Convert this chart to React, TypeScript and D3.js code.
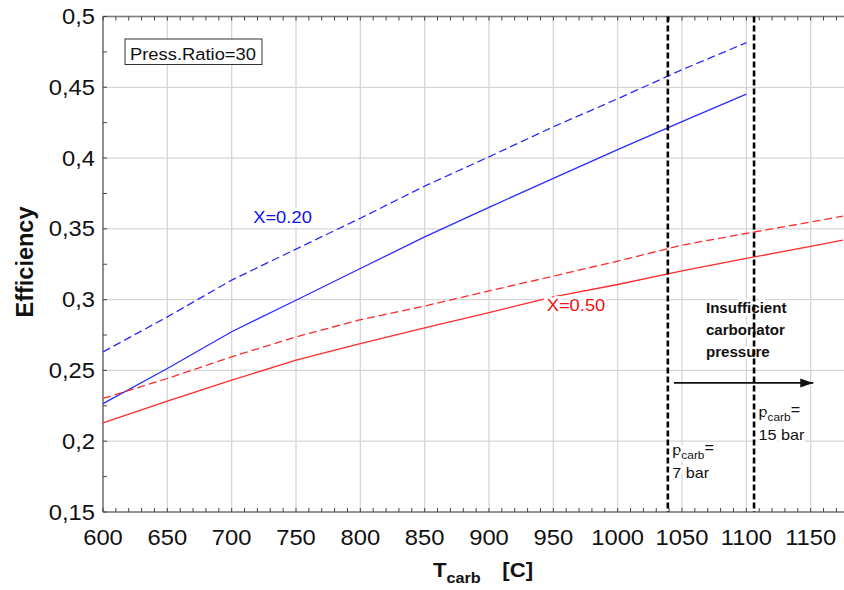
import React from "react";
import * as d3 from "d3";

// Carbonator temperature grid for each sorbent conversion case
const tempX020 = [600, 650, 700, 750, 800, 850, 900, 950, 1000, 1050, 1100];
const effX020Dashed = [0.2631, 0.2878, 0.3138, 0.3357, 0.3575, 0.3802, 0.4009, 0.4221, 0.4419, 0.4624, 0.4815];
const effX020Solid = [0.2266, 0.2514, 0.2773, 0.2996, 0.322, 0.3443, 0.3652, 0.3857, 0.406, 0.4257, 0.4452];

const tempX050 = [600, 650, 700, 750, 800, 850, 900, 950, 1000, 1050, 1100, 1150, 1175];
const effX050Dashed = [0.2302, 0.2443, 0.2596, 0.2737, 0.2858, 0.2955, 0.3062, 0.3166, 0.3272, 0.3385, 0.3468, 0.3548, 0.359];
const effX050Solid = [0.2129, 0.2283, 0.2431, 0.2572, 0.269, 0.28, 0.2909, 0.302, 0.3107, 0.3204, 0.3291, 0.3377, 0.342];

const xGrid = [600, 650, 700, 750, 800, 850, 900, 950, 1000, 1050, 1100, 1150, 1200];
const xTickLabels = [600, 650, 700, 750, 800, 850, 900, 950, 1000, 1050, 1100, 1150];
const yTicks = [0.15, 0.2, 0.25, 0.3, 0.35, 0.4, 0.45, 0.5];

// Minimum carbonator pressure boundaries (temperature, label)
const pressureTemps = [1039, 1106];
const pressureLabels = ["7 bar", "15 bar"];
const pressureLabelEff = [0.1901, 0.2172];

const seriesLabels = ["X=0.20", "X=0.50"];
const pressRatioLabel = "Press.Ratio=30";
const insufficientLines = ["Insufficient", "carbonator", "pressure"];

const FONT = "'Liberation Sans', Arial, Helvetica, sans-serif";
const BLUE = "#2b2bff";
const RED = "#ff2b2b";
const GRID = "#d6d6d6";
const AXIS = "#7c7c7c";
const SX = 1.08;

const W = 844;
const H = 590;
const M = { left: 103, top: 16.5, bottom: 512, right: 875 };

type TxtProps = {
  x: number;
  y: number;
  anchor?: "start" | "middle" | "end";
  size: number;
  weight?: string | number;
  fill?: string;
  halo?: boolean;
  children: React.ReactNode;
};

function Txt({ x, y, anchor = "start", size, weight = "normal", fill = "#111", halo, children }: TxtProps) {
  return (
    <g transform={`translate(${x},${y}) scale(${SX},1)`}>
      <text
        x={0}
        y={0}
        textAnchor={anchor}
        fontFamily={FONT}
        fontSize={size}
        fontWeight={weight}
        fill={fill}
        stroke={halo ? "#fff" : "none"}
        strokeWidth={halo ? 6 : 0}
        strokeLinejoin="round"
        paintOrder="stroke"
      >
        {children}
      </text>
    </g>
  );
}

export default function App() {
  const x = d3.scaleLinear().domain([600, 1200]).range([M.left, M.right]);
  const y = d3.scaleLinear().domain([0.15, 0.5]).range([M.bottom, M.top]);

  const line = d3
    .line<[number, number]>()
    .x((d) => x(d[0]))
    .y((d) => y(d[1]));

  const zipSeries = (t: number[], v: number[]) => t.map((tt, i) => [tt, v[i]] as [number, number]);

  const minorX = d3.range(600, 1201, 10);
  const minorY = d3.range(0, 15).map((i) => 0.15 + i * 0.025);
  const fmtY = (v: number) => String(+v.toFixed(3)).replace(".", ",");

  const arrowY = y(0.2412);

  return (
    <svg
      width={W}
      height={H}
      viewBox={`0 0 ${W} ${H}`}
      style={{ position: "absolute", left: 0, top: 0, background: "#fff", overflow: "hidden" }}
    >
      <defs>
        <marker id="arrowHead" markerWidth={14} markerHeight={10} refX={13} refY={4.5} orient="auto" markerUnits="userSpaceOnUse">
          <path d="M0,0 L13,4.5 L0,9 Z" fill="#111" />
        </marker>
      </defs>
      <rect x={0} y={0} width={W} height={H} fill="#fff" />

      {/* grid */}
      {xGrid.map((t) => (
        <line key={`gx${t}`} x1={x(t)} x2={x(t)} y1={M.top} y2={M.bottom} stroke={GRID} strokeWidth={1.3} />
      ))}
      {yTicks.map((v) => (
        <line key={`gy${v}`} x1={M.left} x2={M.right} y1={y(v)} y2={y(v)} stroke={GRID} strokeWidth={1.3} />
      ))}

      {/* axes frame */}
      <line x1={M.left} x2={M.right} y1={M.bottom} y2={M.bottom} stroke={AXIS} strokeWidth={1.6} />
      <line x1={M.left} x2={M.right} y1={M.top} y2={M.top} stroke={AXIS} strokeWidth={1.6} />
      <line x1={M.left} x2={M.left} y1={M.top} y2={M.bottom} stroke={AXIS} strokeWidth={1.6} />

      {/* inward ticks */}
      {minorX.map((t) => (
        <g key={`tx${t}`}>
          <line x1={x(t)} x2={x(t)} y1={M.bottom} y2={M.bottom - 4} stroke="#444" strokeWidth={1} />
          <line x1={x(t)} x2={x(t)} y1={M.top} y2={M.top + 4} stroke="#444" strokeWidth={1} />
        </g>
      ))}
      {minorY.map((v) => (
        <line key={`ty${v}`} x1={M.left} x2={M.left + 4} y1={y(v)} y2={y(v)} stroke="#444" strokeWidth={1} />
      ))}

      {/* efficiency curves */}
      <path d={line(zipSeries(tempX020, effX020Dashed)) || ""} fill="none" stroke={BLUE} strokeWidth={1.3} strokeDasharray="8 4" />
      <path d={line(zipSeries(tempX020, effX020Solid)) || ""} fill="none" stroke={BLUE} strokeWidth={1.3} />
      <path d={line(zipSeries(tempX050, effX050Dashed)) || ""} fill="none" stroke={RED} strokeWidth={1.3} strokeDasharray="8 4" />
      <path d={line(zipSeries(tempX050, effX050Solid)) || ""} fill="none" stroke={RED} strokeWidth={1.3} />

      {/* series labels */}
      <Txt x={x(716.7)} y={y(0.3538)} size={17} fill="#1010f0" halo>
        {seriesLabels[0]}
      </Txt>
      <Txt x={x(944.8)} y={y(0.2919)} size={17} fill="#f01010" halo>
        {seriesLabels[1]}
      </Txt>

      {/* insufficient-pressure annotation */}
      {insufficientLines.map((s, i) => (
        <Txt key={s} x={x(1068.6)} y={y(0.2909) + i * 22} size={14} weight="bold" halo>
          {s}
        </Txt>
      ))}

      {/* pressure limit lines */}
      {pressureTemps.map((t) => (
        <line key={`pl${t}`} x1={x(t)} x2={x(t)} y1={M.top} y2={M.bottom} stroke="#000" strokeWidth={2.6} strokeDasharray="6 3" />
      ))}

      <line x1={x(1043.7)} x2={x(1152)} y1={arrowY} y2={arrowY} stroke="#111" strokeWidth={1.6} markerEnd="url(#arrowHead)" />

      {pressureTemps.map((t, i) => (
        <g key={`plab${t}`}>
          <Txt x={x(t) + 4.5} y={y(pressureLabelEff[i])} size={15} halo>
            <tspan>p</tspan>
            <tspan fontSize={11} dy={4}>carb</tspan>
            <tspan dy={-6}>=</tspan>
          </Txt>
          <Txt x={x(t) + 4.5} y={y(pressureLabelEff[i]) + 23} size={15} halo>
            {pressureLabels[i]}
          </Txt>
        </g>
      ))}

      {/* pressure-ratio box */}
      <rect x={M.left + 22} y={M.top + 22.5} width={137} height={25.5} fill="#fff" stroke="#333" strokeWidth={1} />
      <Txt x={M.left + 27} y={M.top + 43} size={17}>
        {pressRatioLabel}
      </Txt>

      {/* tick labels */}
      {yTicks.map((v) => (
        <Txt key={`ly${v}`} x={95} y={y(v) + 7.5} anchor="end" size={22}>
          {fmtY(v)}
        </Txt>
      ))}
      {xTickLabels.map((t) => (
        <Txt key={`lx${t}`} x={x(t)} y={545} anchor="middle" size={22}>
          {t}
        </Txt>
      ))}

      {/* axis titles */}
      <text
        transform="translate(33,262) rotate(-90)"
        textAnchor="middle"
        fontFamily={FONT}
        fontSize={23.5}
        fontWeight="bold"
        fill="#111"
      >
        Efficiency
      </text>
      <Txt x={433} y={577} size={20.5} weight="bold">
        <tspan>T</tspan>
        <tspan fontSize={15} dy={6}>carb</tspan>
        <tspan dy={-6} dx={20}>[C]</tspan>
      </Txt>
    </svg>
  );
}
